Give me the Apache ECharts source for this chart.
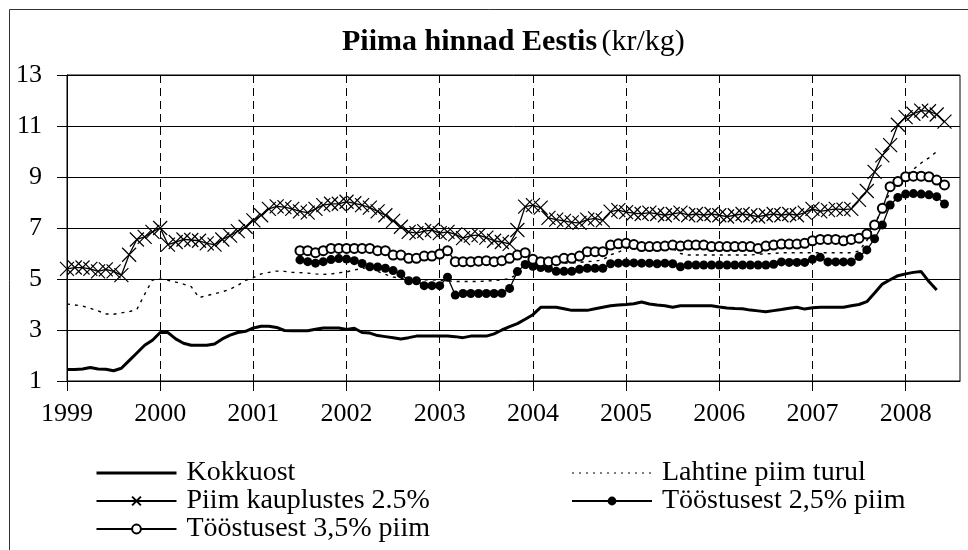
<!DOCTYPE html>
<html>
<head>
<meta charset="UTF-8">
<title>Piima hinnad Eestis</title>
<style>
body { padding:0; border:0; margin:0; background:#fff; }
</style>
<script src="https://cdn.jsdelivr.net/npm/echarts@6/dist/echarts.min.js"></script>
</head>
<body>
<div id="main" style="width:968px;height:550px;"></div>
<script>
// tick labels (years) and monthly categories 1999-01 .. 2008-08
var years = ['1999', '2000', '2001', '2002', '2003', '2004', '2005', '2006', '2007', '2008'];
var months = [];
years.forEach(function (y) {
    var last = (y === '2008') ? 8 : 12;
    for (var m = 1; m <= last; m++) months.push(y + '-' + (m < 10 ? '0' : '') + m);
});

// Kokkuost, 1999-01 .. 2008-05
var kokkuost = [
    1.45, 1.45, 1.47, 1.53, 1.47, 1.46, 1.40, 1.50, 1.80, 2.10,
    2.40, 2.60, 2.90, 2.90, 2.65, 2.48, 2.40, 2.40, 2.40, 2.45,
    2.65, 2.80, 2.90, 2.95, 3.08, 3.15, 3.15, 3.10, 2.98, 2.97,
    2.97, 2.97, 3.03, 3.08, 3.08, 3.08, 3.02, 3.07, 2.90, 2.88,
    2.78, 2.74, 2.70, 2.65, 2.70, 2.76, 2.76, 2.76, 2.76, 2.76,
    2.74, 2.70, 2.76, 2.76, 2.76, 2.85, 3.00, 3.13, 3.25, 3.42,
    3.60, 3.89, 3.89, 3.89, 3.83, 3.77, 3.77, 3.77, 3.83, 3.89,
    3.95, 3.98, 4.00, 4.03, 4.10, 4.02, 3.98, 3.95, 3.89, 3.95,
    3.95, 3.95, 3.95, 3.95, 3.90, 3.86, 3.84, 3.83, 3.78, 3.75,
    3.72, 3.76, 3.80, 3.85, 3.89, 3.82, 3.87, 3.89, 3.89, 3.89,
    3.89, 3.95, 4.00, 4.11, 4.45, 4.80, 4.97, 5.13, 5.20, 5.26,
    5.29, 4.90, 4.57
];

// Lahtine piim turul, 1999-01 .. 2008-05
var lahtine = [
    4.02, 3.98, 3.94, 3.85, 3.75, 3.63, 3.62, 3.67, 3.72, 3.81,
    4.40, 4.96, 5.00, 4.95, 4.88, 4.80, 4.70, 4.27, 4.35, 4.42,
    4.50, 4.60, 4.75, 4.95, 5.05, 5.20, 5.26, 5.31, 5.30, 5.26,
    5.25, 5.23, 5.20, 5.18, 5.20, 5.24, 5.28, 5.35, 5.42, 5.45,
    5.30, 5.18, 5.08, 5.02, 5.00, 4.98, 4.97, 4.97, 4.95, 4.93,
    4.90, 4.90, 4.90, 4.90, 4.92, 4.94, 4.96, 5.02, 5.20, 5.40,
    5.55, 5.60, 5.62, 5.62, 5.62, 5.63, 5.65, 5.68, 5.70, 5.75,
    5.95, 6.05, 6.20, 6.25, 6.25, 6.25, 6.25, 6.25, 6.20, 6.00,
    5.94, 5.94, 5.94, 5.94, 5.94, 5.94, 5.94, 5.94, 5.94, 5.97,
    5.99, 6.00, 6.03, 6.03, 6.03, 6.03, 6.03, 6.03, 6.03, 6.03,
    6.03, 6.03, 6.10, 6.50, 7.10, 7.80, 8.40, 8.80, 9.05, 9.30,
    9.55, 9.75, 10.00
];

// Piim kauplustes 2.5%, 1999-01 .. 2008-06
var kauplustes = [
    5.40, 5.45, 5.45, 5.40, 5.30, 5.38, 5.30, 5.15, 5.95, 6.55,
    6.65, 6.85, 7.00, 6.35, 6.45, 6.55, 6.53, 6.50, 6.40, 6.35,
    6.55, 6.70, 6.88, 7.05, 7.30, 7.50, 7.75, 7.85, 7.82, 7.75,
    7.65, 7.60, 7.75, 7.90, 7.95, 7.95, 8.03, 7.97, 7.90, 7.80,
    7.65, 7.50, 7.28, 7.05, 6.85, 6.80, 6.88, 6.92, 6.80, 6.85,
    6.75, 6.60, 6.70, 6.72, 6.62, 6.50, 6.45, 6.38, 6.92, 7.84,
    7.90, 7.80, 7.40, 7.33, 7.28, 7.22, 7.20, 7.33, 7.38, 7.30,
    7.64, 7.70, 7.62, 7.58, 7.55, 7.60, 7.55, 7.50, 7.55, 7.60,
    7.50, 7.55, 7.50, 7.55, 7.50, 7.45, 7.50, 7.55, 7.50, 7.45,
    7.50, 7.55, 7.50, 7.55, 7.50, 7.60, 7.75, 7.65, 7.70, 7.75,
    7.72, 7.75, 8.10, 8.45, 9.20, 9.85, 10.25, 11.05, 11.35, 11.48,
    11.60, 11.58, 11.45, 11.17
];

// Tööstusest piim, 2001-07 .. 2008-06
var toostusStart = 30;
var toostus25 = [
    5.75, 5.68, 5.62, 5.68, 5.76, 5.80, 5.78, 5.72, 5.61, 5.48,
    5.47, 5.42, 5.33, 5.20, 4.93, 4.93, 4.74, 4.74, 4.74, 5.07,
    4.37, 4.43, 4.43, 4.43, 4.43, 4.43, 4.44, 4.63, 5.29, 5.57,
    5.50, 5.45, 5.42, 5.30, 5.30, 5.30, 5.38, 5.42, 5.42, 5.42,
    5.60, 5.62, 5.63, 5.63, 5.62, 5.62, 5.60, 5.62, 5.60, 5.48,
    5.55, 5.55, 5.55, 5.55, 5.55, 5.55, 5.55, 5.55, 5.55, 5.55,
    5.55, 5.58, 5.67, 5.65, 5.65, 5.65, 5.77, 5.85, 5.67, 5.67,
    5.67, 5.67, 5.88, 6.14, 6.58, 7.12, 7.90, 8.20, 8.33, 8.35,
    8.33, 8.30, 8.23, 7.94
];
var toostus35 = [
    6.11, 6.11, 6.03, 6.11, 6.20, 6.20, 6.20, 6.20, 6.20, 6.20,
    6.11, 6.11, 5.94, 5.94, 5.81, 5.81, 5.90, 5.90, 5.98, 6.11,
    5.68, 5.68, 5.68, 5.70, 5.72, 5.68, 5.72, 5.81, 5.94, 6.03,
    5.77, 5.68, 5.68, 5.72, 5.81, 5.81, 5.90, 6.07, 6.07, 6.07,
    6.33, 6.38, 6.40, 6.35, 6.27, 6.27, 6.27, 6.29, 6.33, 6.29,
    6.33, 6.33, 6.33, 6.27, 6.27, 6.27, 6.27, 6.27, 6.27, 6.20,
    6.29, 6.33, 6.37, 6.37, 6.37, 6.40, 6.50, 6.55, 6.55, 6.55,
    6.50, 6.55, 6.60, 6.76, 7.12, 7.77, 8.62, 8.82, 9.01, 9.03,
    9.03, 9.01, 8.88, 8.69
];

function pad(arr, start) {
    var out = [];
    for (var i = 0; i < start; i++) out.push(null);
    return out.concat(arr);
}
function yearStart(idx) { return idx % 12 === 0; }

var FONT = '"Liberation Serif", "Times New Roman", serif';
var serif = function (size) {
    return { fontFamily: FONT, fontSize: size, fontWeight: 'normal', color: '#000' };
};
var myChart = echarts.init(document.getElementById('main'));

function legendBlock(left, items) {
    return {
        orient: 'vertical',
        left: left,
        top: 459,
        padding: 0,
        itemWidth: 80,
        itemHeight: 11,
        itemGap: 0,
        formatter: function (name) { return '{t|' + name + '}'; },
        textStyle: {
            fontFamily: FONT, fontSize: 28, color: '#000',
            rich: { t: { fontFamily: FONT, fontSize: 28, lineHeight: 28, color: '#000', padding: [0, 0, 0, 5] } }
        },
        data: items
    };
}

var option = {
    animation: false,
    backgroundColor: '#fff',
    textStyle: { fontFamily: FONT, color: '#000' },
    title: {
        left: 337,
        top: 22,
        text: '{b|Piima hinnad Eestis} {n|(kr/kg)}',
        textStyle: {
            fontFamily: FONT,
            rich: {
                b: { fontFamily: FONT, fontSize: 30, fontWeight: 'bold', color: '#000' },
                n: serif(30)
            }
        }
    },
    legend: [
        legendBlock(95, [
            { name: 'Kokkuost', itemStyle: { opacity: 0 }, lineStyle: { width: 3 } },
            'Piim kauplustes 2.5%',
            'Tööstusest 3,5% piim'
        ]),
        legendBlock(571, [
            { name: 'Lahtine piim turul', itemStyle: { opacity: 0 }, lineStyle: { width: 1.2, type: [2, 5] } },
            'Tööstusest 2,5% piim'
        ])
    ],
    grid: {
        left: 67, right: 8, top: 75, bottom: 169,
        show: true, borderColor: '#000', borderWidth: 1
    },
    xAxis: {
        type: 'category',
        data: months,
        boundaryGap: false,
        axisLine: { lineStyle: { color: '#000', width: 1 } },
        axisTick: { interval: yearStart, length: 10, lineStyle: { color: '#000' } },
        axisLabel: {
            interval: yearStart,
            formatter: function (v) { return '{t|' + v.slice(0, 4) + '}'; },
            rich: { t: serif(26) },
            margin: 20
        },
        splitLine: { show: true, interval: yearStart, lineStyle: { color: '#000', type: [8, 5], width: 1 } }
    },
    yAxis: {
        type: 'value',
        min: 1, max: 13, interval: 2,
        axisLine: { show: true, lineStyle: { color: '#000', width: 1 } },
        axisTick: { show: true, length: 10, lineStyle: { color: '#000' } },
        axisLabel: {
            formatter: function (v) { return '{t|' + v + '}'; },
            rich: { t: serif(26) },
            margin: 25
        },
        splitLine: { lineStyle: { color: '#000', width: 1 } }
    },
    graphic: [{
        type: 'polyline',
        shape: { points: [[9.5, 560], [9.5, 9.5], [980, 9.5]] },
        style: { stroke: '#333', lineWidth: 1, fill: null },
        silent: true
    }],
    series: [{
        name: 'Kokkuost', type: 'line',
        color: '#000',
        data: kokkuost,
        symbol: 'none',
        lineStyle: { color: '#000', width: 3 }
    }, {
        name: 'Lahtine piim turul', type: 'line',
        color: '#000',
        data: lahtine,
        symbol: 'none',
        lineStyle: { color: '#000', width: 1.4, type: [3, 5] }
    }, {
        name: 'Piim kauplustes 2.5%', type: 'line',
        color: '#000',
        data: kauplustes,
        symbol: 'path://M0,0L10,10M10,0L0,10',
        symbolSize: 14,
        showAllSymbol: true,
        lineStyle: { color: '#000', width: 1.3 },
        itemStyle: { color: '#000', borderColor: '#000', borderWidth: 1.2 }
    }, {
        name: 'Tööstusest 2,5% piim', type: 'line',
        color: '#000',
        data: pad(toostus25, toostusStart),
        symbol: 'circle',
        symbolSize: 9,
        showAllSymbol: true,
        lineStyle: { color: '#000', width: 1.3 },
        itemStyle: { color: '#000' }
    }, {
        name: 'Tööstusest 3,5% piim', type: 'line',
        color: '#000',
        data: pad(toostus35, toostusStart),
        symbol: 'emptyCircle',
        symbolSize: 9,
        showAllSymbol: true,
        lineStyle: { color: '#000', width: 1.3 },
        itemStyle: { color: '#000', borderWidth: 1.2 }
    }]
};

myChart.setOption(option);
</script>
</body>
</html>
